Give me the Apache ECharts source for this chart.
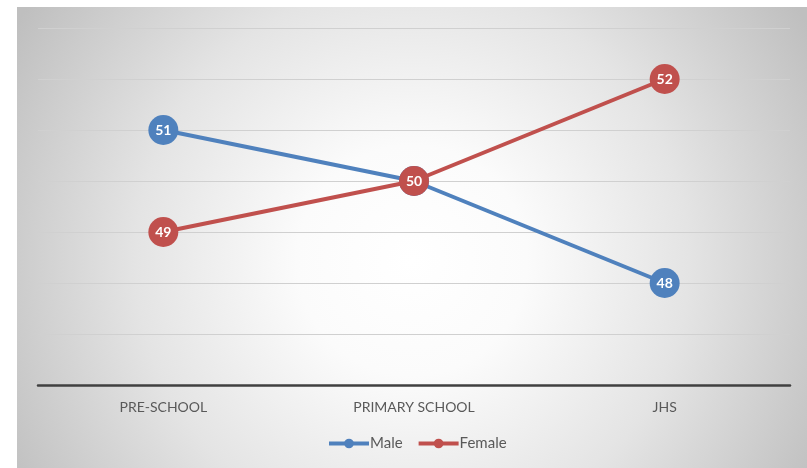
<!DOCTYPE html>
<html>
<head>
<meta charset="utf-8">
<script src="https://cdn.jsdelivr.net/npm/echarts@6/dist/echarts.min.js"></script>
<style>
  html, body { margin: 0; padding: 0; background: #ffffff; }
  #chart { width: 807px; height: 468px; }
</style>
</head>
<body>
<div id="chart"></div>
<script>
// School levels along the x axis
const categories = ['PRE-SCHOOL', 'PRIMARY SCHOOL', 'JHS'];
// Share by sex at each level
const maleValues = [51, 50, 48];
const femaleValues = [49, 50, 52];

const chart = echarts.init(document.getElementById('chart'), null, { renderer: 'canvas' });

const labelFont = 'Lato, "Open Sans", "Noto Sans", sans-serif';

function lineSeries(name, data, color, z) {
  return {
    name: name,
    type: 'line',
    data: data,
    z: z,
    symbol: 'circle',
    symbolSize: 30,
    lineStyle: { color: color, width: 4 },
    itemStyle: { color: color },
    label: {
      show: true,
      position: 'inside',
      color: '#ffffff',
      fontWeight: 'bold',
      fontSize: 14,
      fontFamily: labelFont
    },
    emphasis: { disabled: true },
    animation: false
  };
}

chart.setOption({
  animation: false,
  graphic: [{
    type: 'rect',
    left: 17,
    top: 7,
    shape: { width: 790, height: 461 },
    z: -10,
    silent: true,
    style: {
      fill: new echarts.graphic.RadialGradient(0.5, 0.55, 1.0, [
        { offset: 0, color: '#ffffff' },
        { offset: 0.25, color: '#fbfbfb' },
        { offset: 0.6, color: '#e4e4e4' },
        { offset: 1, color: '#bfbfbf' }
      ])
    }
  }],
  grid: { left: 38, right: 17, top: 28, bottom: 83, containLabel: false },
  xAxis: {
    type: 'category',
    data: categories,
    boundaryGap: true,
    axisLine: { show: true, lineStyle: { color: '#404040', width: 2.5 } },
    axisTick: { show: false },
    axisLabel: { color: '#595959', fontSize: 14, fontFamily: labelFont, margin: 15 },
    z: 5
  },
  yAxis: {
    type: 'value',
    min: 46,
    max: 53,
    interval: 1,
    axisLine: { show: false },
    axisTick: { show: false },
    axisLabel: { show: false },
    splitLine: { show: true, lineStyle: { color: '#d0d0d0', width: 1 } }
  },
  legend: {
    data: ['Male', 'Female'],
    bottom: 12,
    left: 322,
    itemWidth: 40,
    itemHeight: 12,
    itemGap: 14,
    lineStyle: { width: 4 },
    textStyle: { color: '#595959', fontSize: 15, fontFamily: labelFont, padding: [0, 0, 0, -4] }
  },
  series: [
    lineSeries('Male', maleValues, '#4f81bd', 2),
    lineSeries('Female', femaleValues, '#c0504d', 3)
  ]
});
</script>
</body>
</html>
